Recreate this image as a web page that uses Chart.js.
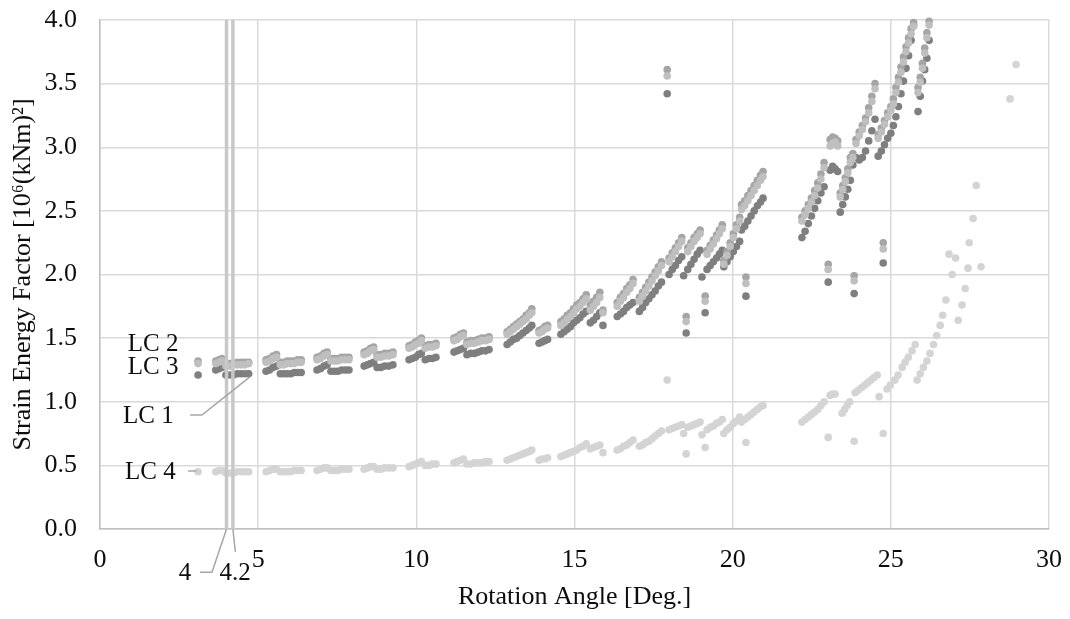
<!DOCTYPE html>
<html><head><meta charset="utf-8">
<script src="https://cdn.jsdelivr.net/npm/chart.js@4.4.1/dist/chart.umd.min.js"></script>
<style>html,body{margin:0;padding:0;background:#fff;}canvas{display:block;}</style>
</head><body>
<canvas id="c" width="1070" height="619"></canvas>
<script>
// ---------- texts & ticks ----------
const xTitle = 'Rotation Angle [Deg.]';
const yTitle = 'Strain Energy Factor [10\u2076(kNm)\u00B2]';
const xRange = [0, 30];
const xStep = 5;
const yRange = [0, 4];
const yStep = 0.5;
const markerAngles = [4, 4.2];

// ---------- shared angles (LC 1 - LC 4), part A ----------
const angleA = [3.10,
 3.66,3.76,3.86,
 3.98,4.10,4.22,4.34,4.46,4.58,4.70,
 5.25,5.36,5.47,5.58,
 5.70,5.81,5.92,6.03,6.14,6.25,6.36,
 6.86,6.97,7.08,7.18,
 7.30,7.41,7.52,7.64,7.76,7.87,
 8.35,8.45,8.55,8.65,
 8.76,8.88,9.00,9.13,9.26,
 9.77,9.87,9.97,10.07,10.16,
 10.28,10.40,10.51,10.62,
 11.19,11.29,11.39,11.49,
 11.60,11.72,11.84,11.96,12.07,12.19,12.30,
 12.87,12.97,13.07,13.17,13.27,13.37,13.47,13.57,13.65,
 13.88,13.97,14.06,14.15,
 14.57,14.67,14.77,14.87,14.97,15.07,15.17,15.27,15.37,
 15.50,15.60,15.70,15.80,15.90,
 16.35,16.45,16.55,16.65,16.75,16.85,
 17.05,17.15,17.25,17.35,17.45,17.55,17.65,17.75,
 17.93,
 17.99,18.09,18.19,18.29,18.39,18.45,
 18.53,
 18.58,18.68,18.78,18.88,18.97,19.03,
 19.13,
 19.19,19.29,19.39,19.49,19.58,19.67,
 19.72,19.82,19.92,20.02,20.12,20.22,
 20.42,
 20.28,20.38,20.48,20.58,20.68,20.78,20.88,20.96];

const lc2A = [1.32,
 1.32,1.33,1.34,
 1.30,1.30,1.30,1.31,1.31,1.31,1.31,
 1.33,1.34,1.36,1.37,
 1.31,1.31,1.32,1.32,1.32,1.33,1.33,
 1.35,1.36,1.38,1.39,
 1.34,1.34,1.34,1.35,1.35,1.35,
 1.39,1.40,1.42,1.43,
 1.37,1.37,1.38,1.38,1.39,
 1.44,1.45,1.47,1.48,1.50,
 1.44,1.45,1.45,1.46,
 1.50,1.51,1.53,1.54,
 1.47,1.48,1.48,1.49,1.50,1.50,1.51,
 1.55,1.57,1.59,1.61,1.63,1.65,1.68,1.70,1.73,
 1.56,1.57,1.59,1.60,
 1.63,1.65,1.68,1.70,1.73,1.76,1.78,1.81,1.84,
 1.76,1.79,1.82,1.86,1.72,
 1.78,1.82,1.85,1.89,1.92,1.96,
 1.82,1.86,1.90,1.94,1.98,2.02,2.06,2.10,
 3.61,
 2.13,2.17,2.21,2.25,2.29,null,
 1.67,
 2.21,2.25,2.29,2.32,2.35,null,
 1.83,
 2.19,2.23,2.27,2.31,2.35,2.39,
 2.11,2.18,2.25,2.32,2.39,2.45,
 1.98,
 2.55,2.58,2.62,2.66,2.70,2.74,2.78,2.81];

const lc3A = [1.30,
 1.30,1.31,1.32,
 1.28,1.28,1.29,1.29,1.29,1.29,1.30,
 1.31,1.32,1.34,1.35,
 1.29,1.29,1.30,1.30,1.30,1.31,1.31,
 1.33,1.34,1.36,1.37,
 1.32,1.32,1.32,1.33,1.33,1.33,
 1.37,1.38,1.40,1.41,
 1.35,1.35,1.36,1.36,1.37,
 1.42,1.43,1.45,1.46,1.48,
 1.42,1.43,1.43,1.44,
 1.48,1.49,1.51,1.52,
 1.45,1.46,1.46,1.47,1.48,1.48,1.49,
 1.53,1.55,1.57,1.59,1.61,1.63,1.65,1.68,1.70,
 1.54,1.55,1.57,1.58,
 1.60,1.62,1.65,1.67,1.70,1.73,1.75,1.78,1.81,
 1.72,1.75,1.78,1.82,1.70,
 1.75,1.79,1.82,1.86,1.89,1.93,
 1.79,1.83,1.87,1.91,1.95,1.99,2.03,2.07,
 3.56,
 2.10,2.14,2.18,2.22,2.26,null,
 1.63,
 2.18,2.22,2.26,2.29,2.32,null,
 1.79,
 2.16,2.20,2.24,2.28,2.32,2.36,
 2.08,2.15,2.22,2.29,2.36,2.42,
 1.93,
 2.51,2.54,2.58,2.62,2.66,2.70,2.74,2.77];

const lc1A = [1.21,
 1.25,1.26,1.27,
 1.21,1.21,1.21,1.22,1.22,1.22,1.22,
 1.24,1.25,1.27,1.28,
 1.22,1.22,1.22,1.22,1.23,1.23,1.23,
 1.25,1.26,1.28,1.29,
 1.24,1.24,1.24,1.25,1.25,1.25,
 1.28,1.29,1.30,1.31,
 1.27,1.27,1.28,1.28,1.29,
 1.33,1.34,1.35,1.37,1.38,
 1.33,1.34,1.34,1.35,
 1.39,1.40,1.41,1.42,
 1.37,1.38,1.38,1.39,1.40,1.40,1.41,
 1.45,1.47,1.49,1.50,1.52,1.54,1.56,1.58,1.60,
 1.46,1.47,1.48,1.49,
 1.53,1.55,1.57,1.59,1.62,1.64,1.66,1.69,1.71,
 1.62,1.64,1.67,1.70,1.60,
 1.67,1.69,1.71,1.74,1.76,1.78,
 1.71,1.74,1.78,1.81,1.84,1.87,1.91,1.94,
 3.42,
 2.00,2.04,2.07,2.11,2.14,1.99,
 1.54,
 2.04,2.08,2.12,2.16,2.19,1.98,
 1.70,
 2.04,2.07,2.10,2.13,2.16,2.19,
 2.06,2.10,2.14,2.18,2.22,2.26,
 1.83,
 2.35,2.38,2.42,2.46,2.50,2.54,2.57,2.60];

const lc4A = [0.45,
 0.45,0.46,0.46,
 0.44,0.44,0.44,0.45,0.45,0.45,0.45,
 0.45,0.46,0.47,0.47,
 0.45,0.45,0.45,0.45,0.46,0.46,0.46,
 0.46,0.47,0.48,0.48,
 0.46,0.46,0.46,0.47,0.47,0.47,
 0.47,0.48,0.49,0.49,
 0.47,0.47,0.48,0.48,0.48,
 0.49,0.50,0.51,0.52,0.53,
 0.50,0.50,0.51,0.51,
 0.52,0.53,0.54,0.55,
 0.51,0.51,0.52,0.52,0.52,0.53,0.53,
 0.54,0.55,0.56,0.57,0.58,0.59,0.60,0.61,0.62,
 0.54,0.55,0.55,0.56,
 0.57,0.58,0.59,0.60,0.61,0.62,0.64,0.65,0.67,
 0.63,0.64,0.65,0.66,0.60,
 0.62,0.63,0.65,0.66,0.68,0.70,
 0.65,0.66,0.68,0.69,0.71,0.73,0.75,0.77,
 1.17,
 0.78,0.79,0.80,0.81,0.82,0.75,
 0.59,
 0.80,0.81,0.82,0.83,0.84,0.74,
 0.64,
 0.78,0.80,0.81,0.83,0.84,0.86,
 0.75,0.78,0.80,0.83,0.85,0.88,
 0.68,
 0.84,0.86,0.88,0.90,0.92,0.94,0.96,0.97];

// ---------- part B (LC 1 - LC 3) ----------
const angleB = [22.19,22.29,22.39,22.49,22.59,22.69,22.79,22.89,
 23.02,
 23.08,23.16,23.24,23.32,
 23.40,23.48,23.56,23.64,23.72,
 23.84,
 23.80,23.90,24.00,24.10,24.20,24.30,24.40,24.50,
 24.60,24.70,24.80,24.90,25.00,
 24.76,
 25.08,25.16,25.24,25.32,25.40,25.48,25.56,25.64,25.72,
 25.86,25.93,26.00,26.07,26.14,26.21];

const lc2B = [2.45,2.50,2.55,2.60,2.66,2.72,2.79,2.88,
 2.08,
 3.06,3.08,3.07,3.05,
 2.64,2.70,2.76,2.83,2.92,
 1.99,
 2.95,3.06,3.12,3.17,3.23,3.31,3.40,3.50,
 3.10,3.15,3.21,3.27,3.32,
 2.25,
 3.38,3.47,3.55,3.63,3.71,3.79,3.86,3.93,3.98,
 3.47,3.55,3.66,3.78,3.90,3.99];

const lc3B = [2.42,2.47,2.52,2.57,2.62,2.68,2.75,2.84,
 2.04,
 3.01,3.03,3.04,3.01,
 2.61,2.67,2.73,2.80,2.88,
 1.95,
 2.92,3.03,3.09,3.14,3.20,3.27,3.36,3.46,
 3.07,3.12,3.18,3.24,3.29,
 2.20,
 3.34,3.43,3.51,3.59,3.67,3.75,3.82,3.89,3.95,
 3.43,3.51,3.62,3.74,3.86,3.96];

const lc1B = [2.29,2.34,2.40,2.46,2.52,2.58,2.64,2.69,
 1.94,
 2.82,2.85,2.83,2.81,
 2.49,2.55,2.61,2.67,2.74,
 1.85,
 2.86,2.92,2.90,2.92,2.97,3.05,3.13,3.22,
 2.93,2.97,3.02,3.07,3.11,
 2.09,
 3.17,3.24,3.32,3.42,3.52,3.62,3.72,3.84,3.96,
 3.28,3.40,3.52,3.61,3.70,3.84];

// ---------- part C (LC 4 tail) ----------
const angleC = [22.19,22.29,22.39,22.49,22.59,22.69,22.79,22.89,
 23.02,
 23.08,23.16,23.24,
 23.46,23.54,23.62,23.70,
 23.84,
 23.87,23.97,24.07,24.17,24.27,24.37,24.47,24.57,
 24.63,
 24.76,
 24.88,24.98,25.13,25.23,25.36,25.45,25.55,25.67,25.77,
 25.83,25.93,26.03,26.14,26.24,26.35,26.45,26.56,26.64,26.74,26.84,26.94,27.05,
 27.13,27.25,27.35,27.44,27.48,27.60,27.70,27.85,
 28.77,28.96];

const lc4C = [0.84,0.86,0.88,0.90,0.92,0.94,0.97,1.00,
 0.72,
 1.05,1.06,1.06,
 0.91,0.94,0.97,1.00,
 0.69,
 1.07,1.09,1.11,1.13,1.15,1.17,1.19,1.21,
 1.04,
 0.75,
 1.10,1.13,1.17,1.21,1.27,1.31,1.35,1.40,1.45,
 1.17,1.22,1.27,1.32,1.38,1.45,1.52,1.60,1.68,1.80,2.16,2.00,2.13,
 1.64,1.76,1.89,2.05,2.25,2.44,2.70,2.06,
 3.38,3.65];

// ---------- annotations (data units) ----------
const noteTexts = ['LC 2', 'LC 3', 'LC 1', 'LC 4', '4', '4.2'];
const noteX = [0.88, 0.88, 0.73, 0.79, 2.69, 4.27];
const noteY = [1.45, 1.266, 0.888, 0.448, -0.346, -0.346];
const noteAlign = ['left', 'left', 'left', 'left', 'center', 'center'];
const leaderLines = [
  [[2.85, 0.896], [3.22, 0.896], [4.74, 1.195]],
  [[2.78, 0.456], [3.05, 0.456]],
  [[3.16, -0.34], [3.54, -0.34], [4.0, 0]],
  [[4.28, -0.18], [4.2, 0]]
];

const FONT = '"Liberation Serif", "Times New Roman", serif';
const FS = 26;
const TXT = '#0d0d0d';

function pts(xs, ys) {
  const out = [];
  for (let i = 0; i < xs.length; i++) {
    if (ys[i] !== null && ys[i] !== undefined) out.push({x: xs[i], y: ys[i]});
  }
  return out;
}

const annot = {
  id: 'annot',
  afterDraw(chart) {
    const {ctx, scales: {x, y}} = chart;
    ctx.save();
    ctx.strokeStyle = '#a6a6a6';
    ctx.lineWidth = 1.5;
    leaderLines.forEach(line => {
      ctx.beginPath();
      line.forEach((p, i) => {
        const px = x.getPixelForValue(p[0]), py = y.getPixelForValue(p[1]);
        if (i === 0) ctx.moveTo(px, py); else ctx.lineTo(px, py);
      });
      ctx.stroke();
    });
    ctx.fillStyle = TXT;
    ctx.font = '25px ' + FONT;
    ctx.textBaseline = 'middle';
    noteTexts.forEach((t, i) => {
      ctx.textAlign = noteAlign[i];
      ctx.fillText(t, x.getPixelForValue(noteX[i]), y.getPixelForValue(noteY[i]));
    });
    ctx.restore();
  }
};

const markerSets = markerAngles.map(a => ({
  type: 'line',
  data: [{x: a, y: yRange[0]}, {x: a, y: yRange[1]}],
  borderColor: '#c8c8c8',
  borderWidth: 3.5,
  pointRadius: 0,
  showLine: true,
  order: 0,
  clip: false
}));

new Chart(document.getElementById('c').getContext('2d'), {
  type: 'scatter',
  data: {
    datasets: [
      ...markerSets,
      {label: 'LC 3', data: [...pts(angleA, lc3A), ...pts(angleB, lc3B)], backgroundColor: '#bfbfbf', order: 1, clip: false},
      {label: 'LC 2', data: [...pts(angleA, lc2A), ...pts(angleB, lc2B)], backgroundColor: '#a5a5a5', order: 2, clip: false},
      {label: 'LC 1', data: [...pts(angleA, lc1A), ...pts(angleB, lc1B)], backgroundColor: '#7f7f7f', order: 3, clip: false},
      {label: 'LC 4', data: [...pts(angleA, lc4A), ...pts(angleC, lc4C)], backgroundColor: '#d4d4d4', order: 4, clip: false}
    ]
  },
  options: {
    responsive: false,
    animation: false,
    events: [],
    layout: {padding: {left: 0, right: 21, top: 20, bottom: 0}},
    elements: {point: {radius: 3.8, hoverRadius: 3.8, borderWidth: 0}},
    plugins: {legend: {display: false}, tooltip: {enabled: false}},
    scales: {
      x: {
        type: 'linear', min: xRange[0], max: xRange[1],
        ticks: {stepSize: xStep, font: {family: FONT, size: FS}, color: TXT, padding: 16, maxRotation: 0},
        grid: {color: '#d9d9d9', lineWidth: 1.5, drawTicks: false},
        border: {color: '#bfbfbf', width: 1.5},
        title: {display: true, text: xTitle, font: {family: FONT, size: FS}, color: TXT, padding: {top: 0, bottom: 6}},
        afterFit(s) { s.height = 90; s.paddingLeft = 0; s.paddingRight = 0; }
      },
      y: {
        type: 'linear', min: yRange[0], max: yRange[1],
        ticks: {stepSize: yStep, font: {family: FONT, size: FS}, color: TXT, padding: 23, callback: v => Number(v).toFixed(1)},
        grid: {color: '#d9d9d9', lineWidth: 1.5, drawTicks: false},
        border: {color: '#bfbfbf', width: 1.5},
        title: {display: true, text: yTitle, font: {family: FONT, size: FS}, color: TXT, padding: {top: 8, bottom: 0}},
        afterFit(s) { s.width = 100; s.paddingTop = 0; s.paddingBottom = 0; }
      }
    }
  },
  plugins: [annot]
});
</script>
</body></html>
